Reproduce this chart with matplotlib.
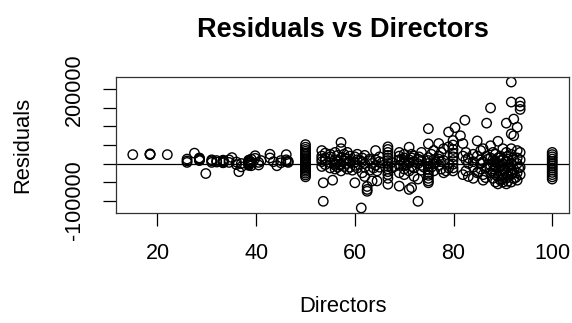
import numpy as np
import matplotlib
matplotlib.use("Agg")
import matplotlib.pyplot as plt

# residuals from the fitted model (in thousands)
# grouped by Directors value
directors = [
    15, 18.5, 18.5, 18.5, 22,
    26, 26, 26, 27.5,
    28.5, 28.5, 28.5, 28.5, 28.5, 28.5,
    29.8, 31, 31, 31, 32, 32,
    33.3, 33.3, 33.3, 33.3, 33.3, 33.3,
    34.5, 34.5, 35.1, 36, 36, 36.5, 37, 37,
    38.5, 38.5, 38.5, 38.5, 38.5, 38.5, 38.5, 38.5, 38.5, 38.5,
    39, 39, 39, 39.8, 39.8, 40.5, 40.5, 41,
    42.8, 42.8, 43.5, 44.2, 45, 45, 46.1, 46.1, 46.1, 46.5, 46.5,
    # column at 50
    50, 50, 50, 50, 50, 50, 50, 50, 50, 50, 50, 50, 50, 50, 50, 50, 50, 50, 50, 50, 50,
    53.3, 53.3, 53.3, 53.3, 53.3, 53.6, 53.6,
    54, 54, 54, 54, 55, 55, 55, 55, 55.5,
    56, 56, 56, 56, 56, 56.5, 56.5, 56.5,
    57.2, 57.2, 57.2, 57.2, 57.2, 57.8, 57.8, 57.8,
    58.5, 58.5, 58.5, 58.5, 59, 59, 59,
    60, 60, 60, 60, 60.5, 60.5, 60.5, 61.3,
    61.5, 61.5, 61.5, 62, 62, 62, 62, 62.5, 62.5, 62.5,
    63, 63, 63, 63.5, 63.5, 64.2, 64.2, 64.2, 64.5, 64.5, 65, 65, 65,
    # column at 66.7
    66.7, 66.7, 66.7, 66.7, 66.7, 66.7, 66.7, 66.7, 66.7, 66.7, 66.7, 66.7, 66.7,
    67.5, 67.5,
    69, 69, 69, 69, 69, 69, 70, 70, 70, 70, 70, 70,
    71, 71, 71, 71, 71, 71.5, 71.5, 71.5, 71.5, 72, 72, 72, 72,
    72.8, 72.8, 72.8, 72.8, 73.5, 73.5, 73.5, 73.5,
    74.9, 74.9, 74.9, 74.9, 74.9, 74.9, 74.9, 74.9, 74.9, 74.9, 74.9, 74.9,
    75.5, 75.5, 76, 76, 76, 76, 77, 77, 77, 77, 77.5, 77.5, 77.5,
    78, 78, 78, 79, 79, 79, 79,
    79.9, 79.9, 79.9, 79.9, 79.9, 79.9, 79.9, 79.9, 79.9,
    80.3, 81.4, 81.9, 81.9, 81.9, 82.3, 82.5, 82.5, 82.5,
    83, 83, 83, 84, 84, 84, 84, 84.8, 84.8, 84.8,
    85.5, 85.5, 85.5, 85.5, 86, 86, 86, 86, 86.7, 86.7, 86.7,
    87.5, 87.5, 87.5, 87.5, 87.5, 88, 88, 88, 88, 88,
    88.5, 88.5, 88.5, 88.5, 88.5, 89, 89, 89, 89, 89,
    89.5, 89.5, 89.5, 89.5, 89.5, 90, 90, 90, 90, 90, 90,
    90.7, 90.7, 90.7, 90.7, 90.7, 90.7, 91, 91, 91, 91, 91,
    91.7, 91.7, 91.7, 91.7, 91.7, 91.7, 91.7, 91.7, 91.7,
    92.2, 92.2, 92.2, 92.2, 92.2, 92.9, 92.9, 92.9, 92.9, 92.9, 92.9,
    93.5, 93.5, 93.5, 93.5, 93.5, 93.5, 93.5,
    # extra points in the dense bands
    57, 58, 59.5, 61, 63.8, 65.5, 68, 69.5, 70.5, 73, 74, 76.5, 78.5,
    85, 86.5, 87, 88.2, 89.2, 89.8, 90.4, 91.3, 92, 92.6, 93.2,
    # column at 100
    100, 100, 100, 100, 100, 100, 100, 100, 100, 100, 100, 100, 100,
]

residuals_k = [
    24, 25, 26, 24, 24,
    7, 3, 12, 28,
    15, 12, 10, 8, 14, 11,
    -27, 7, 10, 3, 4, 8,
    5, 7, 3, 9, 2, 6,
    3, 10, 16, -3, 4, -22, -9, 0,
    0, 3, 6, 9, -3, 2, 5, 8, -5, 1,
    -6, 4, 12, 21, 14, 3, -4, 8,
    25, 15, 5, -6, 2, 8, 24, 10, 5, 3, 6,
    51, 44, 38, 33, 28, 24, 20, 16, 12, 8, 5, 2, -2, -5, -9, -13, -17, -21, -26, -31, -36,
    35, 20, 12, 5, -8, -52, -102,
    28, 15, -3, 8, 18, 2, -12, 25, -45,
    10, -5, 30, 0, -15, 22, 5, -10,
    57, 40, 15, -2, -20, 8, 25, -8,
    12, -15, 30, 0, 5, 20, -10,
    -52, 18, -5, 3, 10, -12, 25, -120,
    -25, 5, 15, -35, 0, 22, -10, -70, -75, -62,
    8, -18, 12, -47, 0, 35, -5, 10, -47, -20, 5, 18, -10,
    45, 38, 30, 22, 15, 8, 0, -8, -15, -22, -30, -40, -56,
    3, -12,
    20, -5, 10, -61, 30, -25, -30, 5, 15, -15, 0, 25,
    44, 10, -70, -20, 3, -65, 25, -8, 15, -35, 5, -12, 20,
    -102, -42, 0, 12, 30, -5, 8, -18,
    94, 53, 16, 8, 0, -8, -16, -24, -32, -40, -47, -52,
    25, -10, 35, 10, -20, 0, 54, 20, -5, 12, 30, -15, 5,
    40, 8, -25, 85, 45, 0, -12,
    62, 50, 38, 28, 18, 8, -2, -12, -20,
    97, 75, 54, 20, -30, 117, 10, -20, 30,
    0, -35, 15, 25, -10, -40, 5, 61, 20, -25,
    35, 0, -15, 10, -30, 5, 40, -45, 109, 20, -10,
    150, 48, 15, -5, -25, 30, 0, -40, -20, 10,
    -50, -30, 25, -10, 5, 60, 15, -35, -55, 0,
    20, -20, -45, 8, -8, 40, 10, -30, -50, -15, 0,
    109, 30, -25, -55, 5, -40, 20, -10, -35, -48, 12,
    220, 166, 80, 40, 0, -20, -50, -30, 25,
    120, 75, 10, -15, -40, 98, 35, 0, -25, 15, -45,
    166, 146, 155, 30, 10, -10, -30,
    -5, 14, -18, 8, -12, 2, -8, 12, -3, 18, -10, 3, -20,
    -22, -38, 12, -15, -28, -42, -18, -5, -25, -38, -12,
    30, 24, 18, 12, 6, 0, -6, -12, -18, -24, -30, -36, -42,
]

x_ticks = [20, 40, 60, 80, 100]
y_ticks = [-100000, -50000, 0, 50000, 100000, 150000, 200000]
y_labels = ["-100000", "", "", "", "", "", "200000"]

plt.rcParams["font.family"] = ["Liberation Sans", "DejaVu Sans"]

x = np.array(directors)
y = np.array(residuals_k) * 1000

fig = plt.figure(figsize=(5.72, 3.23), dpi=100)
ax = fig.add_axes([116 / 572, 110 / 323, 453 / 572, 136 / 323])

ax.scatter(x, y, s=46, facecolors="none", edgecolors="black", linewidths=1.0)
ax.axhline(0, color="black", lw=0.9)

# R style 4% padding around the data
xr = x.max() - x.min()
yr = y.max() - y.min()
ax.set_xlim(x.min() - 0.04 * xr, x.max() + 0.04 * xr)
ax.set_ylim(y.min() - 0.04 * yr, y.max() + 0.04 * yr)

ax.set_xticks(x_ticks)
ax.set_xticklabels([str(t) for t in x_ticks])
ax.set_yticks(y_ticks)
ax.set_yticklabels(y_labels, rotation=90, va="center")

ax.tick_params(axis="both", direction="out", length=9.5, width=0.9,
               labelsize=15.5, color="black")
ax.tick_params(axis="x", pad=12)
ax.tick_params(axis="y", pad=13)
for sp in ax.spines.values():
    sp.set_linewidth(0.9)
    sp.set_color("#333333")

fig.text(0.5988, 1 - 30 / 323, "Residuals vs Directors", ha="center", va="center",
         fontsize=19.5, fontweight="bold")
fig.text(0.5988, 1 - 306 / 323, "Directors", ha="center", va="center", fontsize=15.8)
fig.text(23 / 572, 1 - 145 / 323, "Residuals", ha="center", va="center",
         rotation=90, fontsize=15.8)

fig.savefig("out.png", dpi=100)
